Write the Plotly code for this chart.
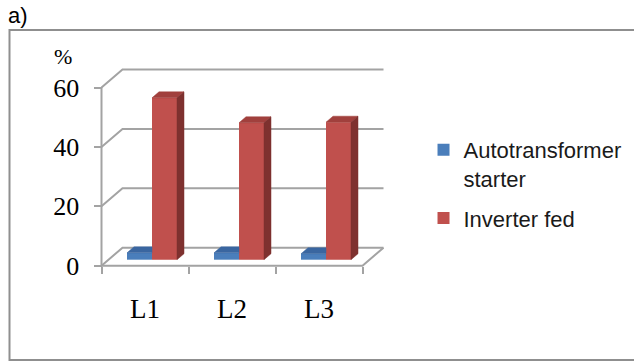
import plotly.graph_objects as go

# ---------------- data ----------------
categories = ["L1", "L2", "L3"]
series_names = ["Autotransformer<br>starter", "Inverter fed"]
autotransformer_starter = [2.3, 2.3, 2.0]
inverter_fed = [54.5, 46.1, 46.3]
y_tick_values = [0, 20, 40, 60]

# ---------------- geometry / style ----------------
W, H = 634, 363
ORIGIN_X_PX, ORIGIN_Y_PX = 101.5, 265.7     # pixel position of (category 0, value 0)
PX_PER_CAT = 87.0
PX_PER_VAL = 2.97
DEPTH_DX_PX, DEPTH_DY_PX = 21.0, 18.0
BAR_W_PX = 25.0
BAR_FRONT, BAR_BACK = 1 / 3, 2 / 3

GRID = "#a3a3a3"
FRONT = ["#4a7ebb", "#c0504d"]
TOP = ["#3a66a0", "#a1403d"]
SIDE = ["#2f5585", "#7e312f"]

xr = [-ORIGIN_X_PX / PX_PER_CAT, (W - ORIGIN_X_PX) / PX_PER_CAT]
yr = [-(H - ORIGIN_Y_PX) / PX_PER_VAL, ORIGIN_Y_PX / PX_PER_VAL]
DX = DEPTH_DX_PX / PX_PER_CAT
DV = DEPTH_DY_PX / PX_PER_VAL
BW = BAR_W_PX / PX_PER_CAT
n = len(categories)

fig = go.Figure()

# ---- walls / gridlines (base axes) ----
gx, gy = [], []
for v in y_tick_values:
    gx += [0, DX, n + DX, None]
    gy += [v, v + DV, v + DV, None]
# front axis line
gx += [0, 0, None]
gy += [0, max(y_tick_values), None]
# floor front + right edge
gx += [0, n, n + DX, None]
gy += [0, 0, DV, None]
fig.add_trace(go.Scatter(x=gx, y=gy, mode="lines", line=dict(color=GRID, width=2),
                         hoverinfo="skip", showlegend=False, xaxis="x", yaxis="y"))

# ---- bars (overlay axes so they sit above the gridlines) ----
series = [autotransformer_starter, inverter_fed]
base = BAR_FRONT * DV
dxb = (BAR_BACK - BAR_FRONT) * DX
dvb = (BAR_BACK - BAR_FRONT) * DV
for s, vals in enumerate(series):
    centers = [i + 0.5 + BAR_FRONT * DX - BW / 2 + s * BW for i in range(n)]
    fig.add_trace(go.Bar(x=centers, y=vals, base=[base] * n, width=[BW] * n,
                         name=series_names[s], marker=dict(color=FRONT[s], line=dict(width=0)),
                         legendgroup=str(s), hoverinfo="skip", xaxis="x2", yaxis="y2"))
    tx, ty, sx, sy = [], [], [], []
    for c, v in zip(centers, vals):
        x0, x1 = c - BW / 2, c + BW / 2
        top = base + v
        if s == 0:
            # right part hidden behind the neighbouring bar
            tx += [x0, x1, x1, x0 + dxb, x0, None]
            ty += [top, top, top + dvb, top + dvb, top, None]
        else:
            tx += [x0, x1, x1 + dxb, x0 + dxb, x0, None]
            ty += [top, top, top + dvb, top + dvb, top, None]
            sx += [x1, x1, x1 + dxb, x1 + dxb, x1, None]
            sy += [base, top, top + dvb, base + dvb, base, None]
    fig.add_trace(go.Scatter(x=tx, y=ty, mode="lines", fill="toself", fillcolor=TOP[s],
                             line=dict(color=TOP[s], width=0.5), hoverinfo="skip",
                             showlegend=False, xaxis="x2", yaxis="y2"))
    if sx:
        fig.add_trace(go.Scatter(x=sx, y=sy, mode="lines", fill="toself", fillcolor=SIDE[s],
                                 line=dict(color=SIDE[s], width=0.5), hoverinfo="skip",
                                 showlegend=False, xaxis="x2", yaxis="y2"))

serif = "Liberation Serif"
sans = "Liberation Sans"

fig.update_layout(
    width=W, height=H,
    margin=dict(l=0, r=0, t=0, b=0),
    paper_bgcolor="white", plot_bgcolor="rgba(0,0,0,0)",
    barmode="overlay",
    xaxis=dict(domain=[0, 1], range=xr, anchor="free", position=1 - ORIGIN_Y_PX / H,
               tickmode="array", tickvals=[i + 0.5 for i in range(n)], ticktext=categories,
               ticks="", showgrid=False, zeroline=False, showline=False,
               tickfont=dict(family=serif, size=27, color="black"), ticklabelstandoff=24,
               minor=dict(tickmode="array", tickvals=list(range(n + 1)), ticks="outside",
                          ticklen=7, tickwidth=2, tickcolor=GRID, showgrid=False)),
    yaxis=dict(domain=[0, 1], range=yr, anchor="free", position=ORIGIN_X_PX / W,
               tickmode="array", tickvals=y_tick_values, ticks="outside", ticklen=8,
               tickwidth=2, tickcolor=GRID, showgrid=False, zeroline=False, showline=False,
               tickfont=dict(family=serif, size=26, color="black"), ticklabelstandoff=9),
    xaxis2=dict(overlaying="x", range=xr, visible=False, anchor="y2"),
    yaxis2=dict(overlaying="y", range=yr, visible=False, anchor="x2"),
    legend=dict(x=0.668, y=1 - 129 / H, xanchor="left", yanchor="top",
                font=dict(family=sans, size=22, color="#1a1a1a"), valign="top",
                tracegroupgap=8, bgcolor="rgba(0,0,0,0)", itemclick=False, itemdoubleclick=False),
    annotations=[
        dict(text="a)", xref="paper", yref="paper", x=6 / W, y=1 - 1 / H,
             xanchor="left", yanchor="top", showarrow=False,
             font=dict(family=sans, size=22, color="black")),
        dict(text="%", xref="x", yref="y", x=-0.44, y=70.6, xanchor="center", yanchor="middle",
             showarrow=False, borderpad=0, font=dict(family=serif, size=22, color="black")),
    ],
    shapes=[dict(type="rect", xref="paper", yref="paper", x0=9.5 / W, x1=1.02,
                 y0=1 - 360 / H, y1=1 - 30 / H, line=dict(color="#8f8f8f", width=2))],
)

fig.write_html("out.html", config={"displayModeBar": False})
